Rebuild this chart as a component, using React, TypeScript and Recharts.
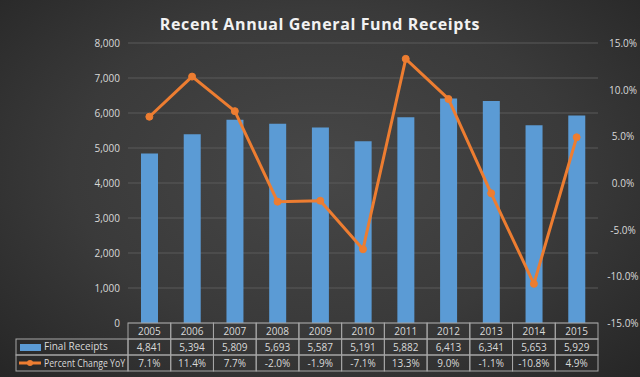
import React from 'react';
import { ComposedChart, Bar, Line, XAxis, YAxis, CartesianGrid } from 'recharts';

const years = ['2005', '2006', '2007', '2008', '2009', '2010', '2011', '2012', '2013', '2014', '2015'];
const finalReceipts = [4841, 5394, 5809, 5693, 5587, 5191, 5882, 6413, 6341, 5653, 5929];
const percentChange = [7.1, 11.4, 7.7, -2.0, -1.9, -7.1, 13.3, 9.0, -1.1, -10.8, 4.9];
const leftTicks = [0, 1000, 2000, 3000, 4000, 5000, 6000, 7000, 8000];
const rightTicks = [-15, -10, -5, 0, 5, 10, 15];

const W = 640;
const H = 377;
const PLOT_LEFT = 128;
const PLOT_RIGHT = 598;
const PLOT_BOTTOM = 323;
const ROW_H = 16;
const COL_W = (PLOT_RIGHT - PLOT_LEFT) / years.length;

const FONT = '"Open Sans", "DejaVu Sans", sans-serif';
const TEXT = '#d9d9d9';
const BORDER = '#a6a6a6';
const BLUE = '#5b9bd5';
const ORANGE = '#ed7d31';

const data = years.map((year, i) => ({
  year,
  receipts: finalReceipts[i],
  pct: percentChange[i],
}));

const fmtReceipts = (v: number) => v.toLocaleString('en-US');
const fmtPct = (v: number) => `${v.toFixed(1)}%`;

// each x tick draws its own column of the data table
const TableTick = (props: any) => {
  const { x, payload } = props;
  const i = years.indexOf(String(payload.value));
  const left = x - COL_W / 2;
  const rows = [years[i], fmtReceipts(finalReceipts[i]), fmtPct(percentChange[i])];
  return (
    <g>
      {rows.map((txt, r) => (
        <g key={r}>
          <rect
            x={left}
            y={PLOT_BOTTOM + r * ROW_H}
            width={COL_W}
            height={ROW_H}
            fill="none"
            stroke={BORDER}
            strokeWidth={1}
          />
          <text
            x={x}
            y={PLOT_BOTTOM + r * ROW_H + 12}
            textAnchor="middle"
            fill={TEXT}
            fontSize={10}
            fontFamily={FONT}
          >
            {txt}
          </text>
        </g>
      ))}
    </g>
  );
};

const RightTick = (props: any) => {
  const { y, payload } = props;
  return (
    <text x={623} y={y + 4} textAnchor="middle" fill={TEXT} fontSize={10} fontFamily={FONT}>
      {fmtPct(payload.value)}
    </text>
  );
};

const App: React.FC = () => {
  return (
    <div
      style={{
        position: 'absolute',
        left: 0,
        top: 0,
        width: W,
        height: H,
        background: 'radial-gradient(ellipse at 50% 45%, #474747 0%, #3a3a3a 55%, #262626 100%)',
        overflow: 'hidden',
      }}
    >
      <ComposedChart
        width={W}
        height={H}
        data={data}
        margin={{ top: 43, right: 0, left: 0, bottom: 6 }}
        barCategoryGap={0}
      >
        <CartesianGrid yAxisId="left" vertical={false} stroke="#5a5a5a" strokeWidth={1} />
        <XAxis
          dataKey="year"
          height={48}
          interval={0}
          axisLine={false}
          tickLine={false}
          tick={<TableTick />}
        />
        <YAxis
          yAxisId="left"
          width={128}
          domain={[0, 8000]}
          ticks={leftTicks}
          tickFormatter={fmtReceipts}
          axisLine={false}
          tickLine={false}
          tick={{ fill: TEXT, fontSize: 10, fontFamily: FONT }}
        />
        <YAxis
          yAxisId="right"
          orientation="right"
          width={42}
          domain={[-15, 15]}
          ticks={rightTicks}
          axisLine={false}
          tickLine={false}
          tick={<RightTick />}
        />
        <Bar yAxisId="left" dataKey="receipts" fill={BLUE} barSize={17} isAnimationActive={false} />
        <Line
          yAxisId="right"
          dataKey="pct"
          type="linear"
          stroke={ORANGE}
          strokeWidth={3}
          dot={{ r: 3.5, fill: ORANGE, stroke: ORANGE, strokeWidth: 1 }}
          isAnimationActive={false}
        />
      </ComposedChart>

      <svg
        width={W}
        height={H}
        style={{ position: 'absolute', left: 0, top: 0, pointerEvents: 'none' }}
      >
        <text
          x={320}
          y={30}
          textAnchor="middle"
          fill="#f2f2f2"
          fontSize={16}
          fontWeight="bold"
          fontFamily={FONT}
          letterSpacing={0.6}
        >
          Recent Annual General Fund Receipts
        </text>
        {/* row headers of the data table */}
        <rect x={16} y={PLOT_BOTTOM + ROW_H} width={PLOT_LEFT - 16} height={ROW_H} fill="none" stroke={BORDER} />
        <rect x={16} y={PLOT_BOTTOM + 2 * ROW_H} width={PLOT_LEFT - 16} height={ROW_H} fill="none" stroke={BORDER} />
        <rect x={20} y={PLOT_BOTTOM + ROW_H + 5} width={21} height={7} fill={BLUE} />
        <line x1={19} x2={41} y1={PLOT_BOTTOM + 2 * ROW_H + 8} y2={PLOT_BOTTOM + 2 * ROW_H + 8} stroke={ORANGE} strokeWidth={3} />
        <circle cx={30} cy={PLOT_BOTTOM + 2 * ROW_H + 8} r={3} fill={ORANGE} />
        <text x={44} y={PLOT_BOTTOM + ROW_H + 11} fill={TEXT} fontSize={10} fontFamily={FONT}>
          Final Receipts
        </text>
        <text
          x={44}
          y={PLOT_BOTTOM + 2 * ROW_H + 12}
          fill={TEXT}
          fontSize={10}
          fontFamily={FONT}
          textLength={81}
          lengthAdjust="spacingAndGlyphs"
        >
          Percent Change YoY
        </text>
      </svg>
    </div>
  );
};

export default App;
